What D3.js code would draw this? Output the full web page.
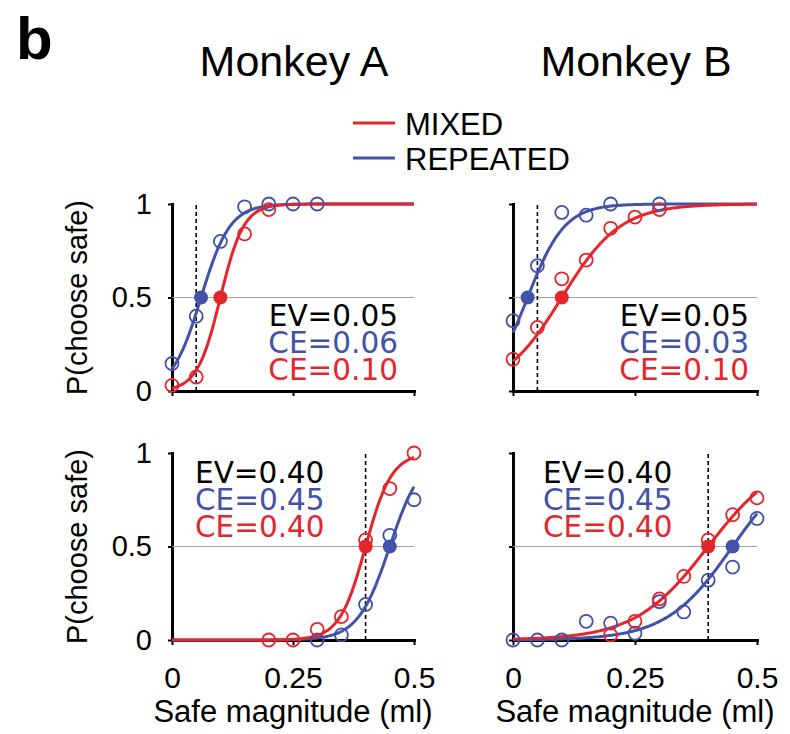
<!DOCTYPE html>
<html>
<head>
<meta charset="utf-8">
<script src="https://cdn.jsdelivr.net/npm/d3@7"></script>
<style>
  body { margin: 0; background: #fff; }
  svg { display: block; }
</style>
</head>
<body>
<svg id="chart" width="790" height="734"></svg>
<script>
// Psychometric choice curves: P(choose safe) vs safe magnitude, MIXED vs REPEATED blocks.

const monkeys = ["Monkey A", "Monkey B"];
const evLevels = [0.05, 0.40];            // expected value of the gamble, per row
const xTicks = [0, 0.25, 0.5];
const yTicks = [0, 0.5, 1];

// Fitted certainty equivalents (logistic midpoints) and widths, [row][column]
const ceMixed    = [[0.10, 0.10], [0.40, 0.40]];
const ceRepeated = [[0.06, 0.03], [0.45, 0.45]];
const widthMixed    = [[0.024, 0.060], [0.027, 0.075]];
const widthRepeated = [[0.030, 0.038], [0.033, 0.068]];

// Observed choice proportions
const mixedA05X    = [0, 0.05, 0.15, 0.20];
const mixedA05P    = [0.03, 0.075, 0.84, 0.97];
const repeatedA05X = [0, 0.05, 0.10, 0.15, 0.20, 0.25, 0.30];
const repeatedA05P = [0.147, 0.40, 0.80, 0.985, 1.0, 1.0, 1.0];

const mixedB05X    = [0, 0.05, 0.10, 0.15, 0.20, 0.25, 0.30];
const mixedB05P    = [0.17, 0.34, 0.60, 0.70, 0.87, 0.93, 0.97];
const repeatedB05X = [0, 0.05, 0.10, 0.15, 0.20, 0.30];
const repeatedB05P = [0.376, 0.67, 0.955, 0.94, 1.0, 1.0];

const mixedA40X    = [0.20, 0.25, 0.30, 0.35, 0.40, 0.45, 0.50];
const mixedA40P    = [0, 0, 0.057, 0.125, 0.535, 0.81, 1.0];
const repeatedA40X = [0.30, 0.35, 0.40, 0.45, 0.50];
const repeatedA40P = [0, 0.027, 0.19, 0.56, 0.75];

const mixedB40X    = [0.20, 0.25, 0.30, 0.35, 0.40, 0.45, 0.50];
const mixedB40P    = [0.027, 0.10, 0.22, 0.34, 0.535, 0.67, 0.76];
const repeatedB40X = [0, 0.05, 0.10, 0.15, 0.20, 0.25, 0.30, 0.35, 0.40, 0.45, 0.50];
const repeatedB40P = [0, 0, 0, 0.10, 0.09, 0.036, 0.205, 0.15, 0.32, 0.39, 0.65];

const pointsMixed = [
  [[mixedA05X, mixedA05P], [mixedB05X, mixedB05P]],
  [[mixedA40X, mixedA40P], [mixedB40X, mixedB40P]]
];
const pointsRepeated = [
  [[repeatedA05X, repeatedA05P], [repeatedB05X, repeatedB05P]],
  [[repeatedA40X, repeatedA40P], [repeatedB40X, repeatedB40P]]
];

const RED = "#e4262c";
const BLUE = "#4152a8";
const SANS = "'Liberation Sans', Arial, sans-serif";
const MONO = "'DejaVu Sans', sans-serif";

const svg = d3.select("#chart");

const colLeft = [172, 513];
const plotW = [242, 244];
const rowTop = [204, 453];
const plotH = 187;

const fmt2 = d3.format(".2f");
const logistic = (ce, w) => v => 1 / (1 + Math.exp(-(v - ce) / w));

// Panel letter, column titles
svg.append("text").attr("x", 16).attr("y", 59)
  .attr("font-family", SANS).attr("font-weight", "bold").attr("font-size", 60)
  .text("b");

monkeys.forEach((m, c) => {
  svg.append("text")
    .attr("x", colLeft[c] + plotW[c] / 2 + 1).attr("y", 76)
    .attr("text-anchor", "middle")
    .attr("font-family", SANS).attr("font-size", 43)
    .text(m);
});

// Legend
const legend = [["MIXED", RED, 123], ["REPEATED", BLUE, 158]];
legend.forEach(([name, col, ly]) => {
  svg.append("line").attr("x1", 353).attr("x2", 395).attr("y1", ly).attr("y2", ly)
    .attr("stroke", col).attr("stroke-width", 3);
  svg.append("text").attr("x", 405).attr("y", ly + 12)
    .attr("font-family", SANS).attr("font-size", 31)
    .text(name);
});

const sample = d3.range(0, 0.5 + 1e-9, 0.0025);

for (let r = 0; r < 2; r++) {
  for (let c = 0; c < 2; c++) {
    const x = d3.scaleLinear().domain([0, 0.5]).range([colLeft[c], colLeft[c] + plotW[c]]);
    const y = d3.scaleLinear().domain([0, 1]).range([rowTop[r] + plotH, rowTop[r]]);
    const g = svg.append("g");

    // Axes
    const ya = g.append("g").attr("transform", `translate(${x(0)},0)`)
      .call(d3.axisLeft(y).tickValues(yTicks).tickSize(4).tickSizeOuter(0).tickPadding(16)
        .tickFormat(c === 0 ? d3.format("") : () => ""));
    const xa = g.append("g").attr("transform", `translate(0,${y(0)})`)
      .call(d3.axisBottom(x).tickValues(xTicks).tickSize(5).tickSizeOuter(0).tickPadding(22)
        .tickFormat(r === 1 ? d3.format("") : () => ""));
    [ya, xa].forEach(a => {
      a.attr("font-family", SANS).attr("font-size", 29);
      a.select(".domain").attr("stroke", "#000").attr("stroke-width", 3).attr("stroke-linecap", "square");
      a.selectAll(".tick line").attr("stroke", "#000").attr("stroke-width", 2);
      a.selectAll(".tick text").attr("fill", "#000");
    });
    xa.attr("font-size", 30);

    // Indifference reference and expected value marker
    g.append("line").attr("x1", x(0)).attr("x2", x(0.5)).attr("y1", y(0.5)).attr("y2", y(0.5))
      .attr("stroke", "#a0a0a0").attr("stroke-width", 1);
    g.append("line").attr("x1", x(evLevels[r])).attr("x2", x(evLevels[r]))
      .attr("y1", y(0)).attr("y2", y(1))
      .attr("stroke", "#000").attr("stroke-width", 1.6).attr("stroke-dasharray", "4,3");

    // Fitted curves
    const line = d3.line().x(d => x(d[0])).y(d => y(d[1]));
    const fitR = logistic(ceRepeated[r][c], widthRepeated[r][c]);
    const fitM = logistic(ceMixed[r][c], widthMixed[r][c]);
    g.append("path").datum(sample.map(v => [v, fitR(v)])).attr("d", line)
      .attr("fill", "none").attr("stroke", BLUE).attr("stroke-width", 3);
    g.append("path").datum(sample.map(v => [v, fitM(v)])).attr("d", line)
      .attr("fill", "none").attr("stroke", RED).attr("stroke-width", 3);

    // Observed proportions
    const drawPts = (pair, col) => {
      const [xs, ps] = pair;
      g.selectAll(null).data(xs.map((v, i) => [v, ps[i]])).join("circle")
        .attr("cx", d => x(d[0])).attr("cy", d => y(d[1])).attr("r", 6.5)
        .attr("fill", "none").attr("stroke", col).attr("stroke-width", 1.8);
    };
    drawPts(pointsRepeated[r][c], BLUE);
    drawPts(pointsMixed[r][c], RED);

    // Certainty equivalents
    g.append("circle").attr("cx", x(ceRepeated[r][c])).attr("cy", y(0.5)).attr("r", 7).attr("fill", BLUE);
    g.append("circle").attr("cx", x(ceMixed[r][c])).attr("cy", y(0.5)).attr("r", 7).attr("fill", RED);

    // Value annotations: one stacked text block per panel
    const lines = [
      ["EV=" + fmt2(evLevels[r]), "#000"],
      ["CE=" + fmt2(ceRepeated[r][c]), BLUE],
      ["CE=" + fmt2(ceMixed[r][c]), RED]
    ];
    const top = r === 0;
    const tx = top ? (c === 0 ? 398 : 749) : (c === 0 ? 195 : 543);
    const ty0 = top ? 326 : 483;
    const step = 27;
    const block = g.append("text")
      .attr("text-anchor", top ? "end" : "start")
      .attr("font-family", MONO).attr("font-size", 29.5);
    lines.forEach(([t, col], i) => {
      block.append("tspan").attr("x", tx).attr("y", ty0 + i * step)
        .attr("fill", col).text(t);
    });

    // Axis titles
    if (c === 0) {
      svg.append("text")
        .attr("transform", `translate(87,${y(0.5)}) rotate(-90)`)
        .attr("text-anchor", "middle")
        .attr("font-family", SANS).attr("font-size", 29)
        .text("P(choose safe)");
    }
    if (r === 1) {
      svg.append("text")
        .attr("x", (x(0) + x(0.5)) / 2).attr("y", 722)
        .attr("text-anchor", "middle")
        .attr("font-family", SANS).attr("font-size", 31)
        .text("Safe magnitude (ml)");
    }
  }
}
</script>
</body>
</html>
